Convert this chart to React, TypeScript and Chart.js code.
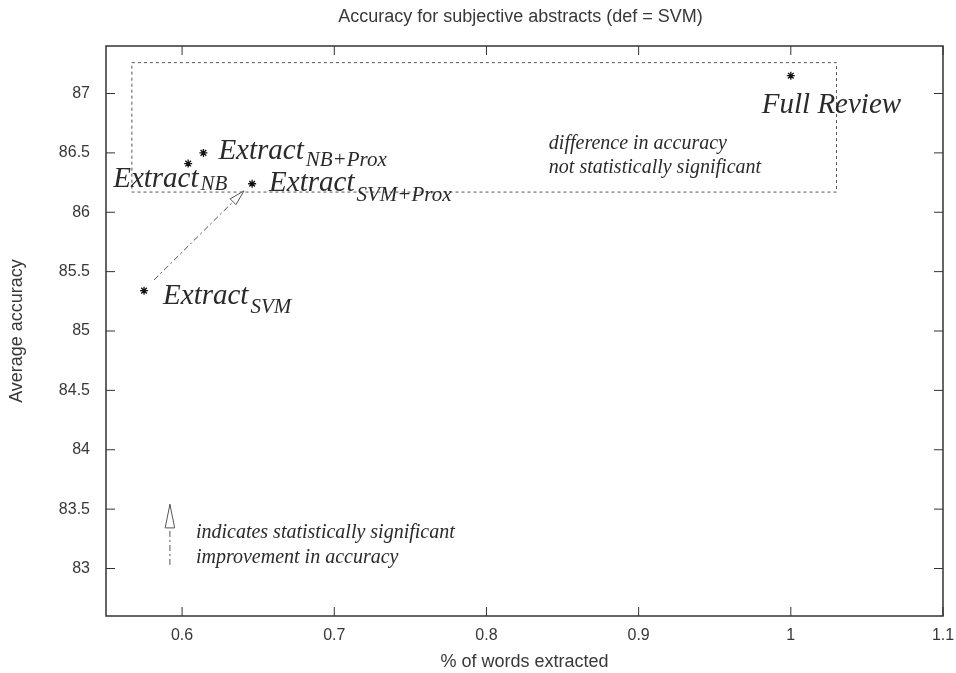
import React, { useEffect, useRef } from 'react';
import { Chart, registerables } from 'chart.js';

Chart.register(...registerables);

// Summarisation methods and their results
const methods = ['Full Review', 'Extract NB+Prox', 'Extract NB', 'Extract SVM+Prox', 'Extract SVM'];
const labelMain = ['Full Review', 'Extract', 'Extract', 'Extract', 'Extract'];
const labelSub = ['', 'NB+Prox', 'NB', 'SVM+Prox', 'SVM'];
const wordsExtracted = [1.0, 0.614, 0.604, 0.646, 0.575];
const avgAccuracy = [87.15, 86.5, 86.41, 86.24, 85.34];

// Axis ticks
const xTicks = [0.6, 0.7, 0.8, 0.9, 1, 1.1];
const yTicks = [83, 83.5, 84, 84.5, 85, 85.5, 86, 86.5, 87];

// Region whose accuracy is not significantly different from the full review
const boxX = [0.567, 1.03];
const boxY = [86.17, 87.26];
const boxNote = ['difference in accuracy', 'not statistically significant'];
const boxNoteAt = [0.841, 86.58];

// Significant improvement arrow (SVM -> SVM+Prox) and its key
const sigArrowFrom = [0.5816, 85.43];
const sigArrowTo = [0.6407, 86.18];
const keyArrowX = 0.592;
const keyArrowY = [83.03, 83.54];
const keyNote = ['indicates statistically significant', 'improvement in accuracy'];

const TITLE = 'Accuracy for subjective abstracts (def = SVM)';
const X_TITLE = '% of words extracted';
const Y_TITLE = 'Average accuracy';

const SANS = '"Liberation Sans", Arial, sans-serif';
const SERIF = '"Liberation Serif", "Times New Roman", serif';

// label placement relative to each point: [dx, dy of baseline, subscript drop]
const labelOffsets = [
  [-29, 37, 0],
  [15, 6, 7],
  [-75, 23, 3],
  [17, 7, 10],
  [19, 13, 9],
];

function arrowHead(ctx: CanvasRenderingContext2D, x1: number, y1: number, x2: number, y2: number, len: number, ang: number) {
  const a = Math.atan2(y2 - y1, x2 - x1);
  ctx.save();
  ctx.setLineDash([]);
  ctx.beginPath();
  ctx.moveTo(x2, y2);
  ctx.lineTo(x2 - len * Math.cos(a - ang), y2 - len * Math.sin(a - ang));
  ctx.lineTo(x2 - len * Math.cos(a + ang), y2 - len * Math.sin(a + ang));
  ctx.closePath();
  ctx.fillStyle = '#fff';
  ctx.fill();
  ctx.stroke();
  ctx.restore();
}

const decorations = {
  id: 'decorations',
  afterDatasetsDraw(chart: any) {
    const { ctx, chartArea: ca, scales } = chart;
    const xs = scales.x;
    const ys = scales.y;
    const X = (v: number) => xs.getPixelForValue(v);
    const Y = (v: number) => ys.getPixelForValue(v);
    const cx = (ca.left + ca.right) / 2;
    const cy = (ca.top + ca.bottom) / 2;

    ctx.save();

    // frame with inward ticks on all sides
    ctx.strokeStyle = '#333';
    ctx.lineWidth = 1.5;
    ctx.strokeRect(ca.left, ca.top, ca.right - ca.left, ca.bottom - ca.top);
    ctx.lineWidth = 1;
    ctx.beginPath();
    xTicks.forEach((t) => {
      const x = X(t);
      ctx.moveTo(x, ca.bottom);
      ctx.lineTo(x, ca.bottom - 9);
      ctx.moveTo(x, ca.top);
      ctx.lineTo(x, ca.top + 9);
    });
    yTicks.forEach((t) => {
      const y = Y(t);
      ctx.moveTo(ca.left, y);
      ctx.lineTo(ca.left + 9, y);
      ctx.moveTo(ca.right, y);
      ctx.lineTo(ca.right - 9, y);
    });
    ctx.stroke();

    // titles
    ctx.fillStyle = '#383838';
    ctx.font = `18px ${SANS}`;
    ctx.textAlign = 'center';
    ctx.textBaseline = 'middle';
    ctx.fillText(TITLE, cx - 4, 17);
    ctx.fillText(X_TITLE, cx, 662);
    ctx.save();
    ctx.translate(17, cy);
    ctx.rotate(-Math.PI / 2);
    ctx.fillText(Y_TITLE, 0, 0);
    ctx.restore();

    // dashed region
    ctx.strokeStyle = '#555';
    ctx.lineWidth = 1;
    ctx.setLineDash([3, 3]);
    ctx.strokeRect(X(boxX[0]), Y(boxY[1]), X(boxX[1]) - X(boxX[0]), Y(boxY[0]) - Y(boxY[1]));

    // significance arrow
    ctx.setLineDash([6, 3, 2, 3]);
    ctx.strokeStyle = '#555';
    const ax1 = X(sigArrowFrom[0]), ay1 = Y(sigArrowFrom[1]);
    const ax2 = X(sigArrowTo[0]), ay2 = Y(sigArrowTo[1]);
    ctx.beginPath();
    ctx.moveTo(ax1, ay1);
    ctx.lineTo(ax2, ay2);
    ctx.stroke();
    arrowHead(ctx, ax1, ay1, ax2, ay2, 16, 0.26);

    // key arrow
    const kx = X(keyArrowX), ky1 = Y(keyArrowY[0]), ky2 = Y(keyArrowY[1]);
    ctx.setLineDash([6, 3, 2, 3]);
    ctx.beginPath();
    ctx.moveTo(kx, ky1);
    ctx.lineTo(kx, ky2);
    ctx.stroke();
    arrowHead(ctx, kx, ky1, kx, ky2, 24, 0.2);
    ctx.setLineDash([]);

    // notes
    ctx.fillStyle = '#2a2a2a';
    ctx.font = `italic 20px ${SERIF}`;
    ctx.textAlign = 'left';
    ctx.textBaseline = 'middle';
    boxNote.forEach((s, i) => ctx.fillText(s, X(boxNoteAt[0]), Y(boxNoteAt[1]) + i * 24));
    keyNote.forEach((s, i) => ctx.fillText(s, kx + 26, Y(keyArrowY[0]) - 32 + i * 25));

    // point labels
    ctx.textBaseline = 'alphabetic';
    labelMain.forEach((m, i) => {
      const [dx, dy, drop] = labelOffsets[i];
      const x = X(wordsExtracted[i]) + dx;
      const y = Y(avgAccuracy[i]) + dy;
      ctx.font = `italic 29px ${SERIF}`;
      ctx.fillText(m, x, y);
      if (labelSub[i]) {
        const w = ctx.measureText(m).width;
        ctx.font = `italic 21px ${SERIF}`;
        ctx.fillText(labelSub[i], x + w + 2, y + drop);
      }
    });

    ctx.restore();
  },
};

export default function App() {
  const ref = useRef<HTMLCanvasElement>(null);

  useEffect(() => {
    if (!ref.current) return;
    const chart = new Chart(ref.current, {
      type: 'scatter',
      data: {
        datasets: [
          {
            label: 'methods',
            data: methods.map((_, i) => ({ x: wordsExtracted[i], y: avgAccuracy[i] })),
            pointStyle: 'star',
            radius: 4,
            borderColor: '#111',
            backgroundColor: '#111',
            borderWidth: 1.3,
          },
        ],
      },
      options: {
        responsive: false,
        animation: false,
        layout: { padding: { left: 0, top: 46, right: 13, bottom: 0 } },
        plugins: {
          legend: { display: false },
          tooltip: { enabled: false },
          title: { display: false },
        },
        scales: {
          x: {
            type: 'linear',
            min: 0.55,
            max: 1.1,
            grid: { display: false, drawTicks: false },
            border: { display: false },
            afterBuildTicks: (s: any) => {
              s.ticks = xTicks.map((v) => ({ value: v }));
            },
            afterFit: (s: any) => {
              s.height = 57;
              s.paddingLeft = 0;
              s.paddingRight = 0;
            },
            ticks: {
              padding: 10,
              color: '#383838',
              font: { family: SANS, size: 16 },
              callback: (v: any) => String(v),
            },
          },
          y: {
            type: 'linear',
            min: 82.6,
            max: 87.4,
            grid: { display: false, drawTicks: false },
            border: { display: false },
            afterBuildTicks: (s: any) => {
              s.ticks = yTicks.map((v) => ({ value: v }));
            },
            afterFit: (s: any) => {
              s.width = 106;
              s.paddingTop = 0;
              s.paddingBottom = 0;
            },
            ticks: {
              padding: 16,
              color: '#383838',
              font: { family: SANS, size: 16 },
              callback: (v: any) => String(v),
            },
          },
        },
      },
      plugins: [decorations],
    });
    return () => chart.destroy();
  }, []);

  return (
    <div style={{ position: 'fixed', left: 0, top: 0, width: 956, height: 673, background: '#fff' }}>
      <canvas ref={ref} width={956} height={673} />
    </div>
  );
}
